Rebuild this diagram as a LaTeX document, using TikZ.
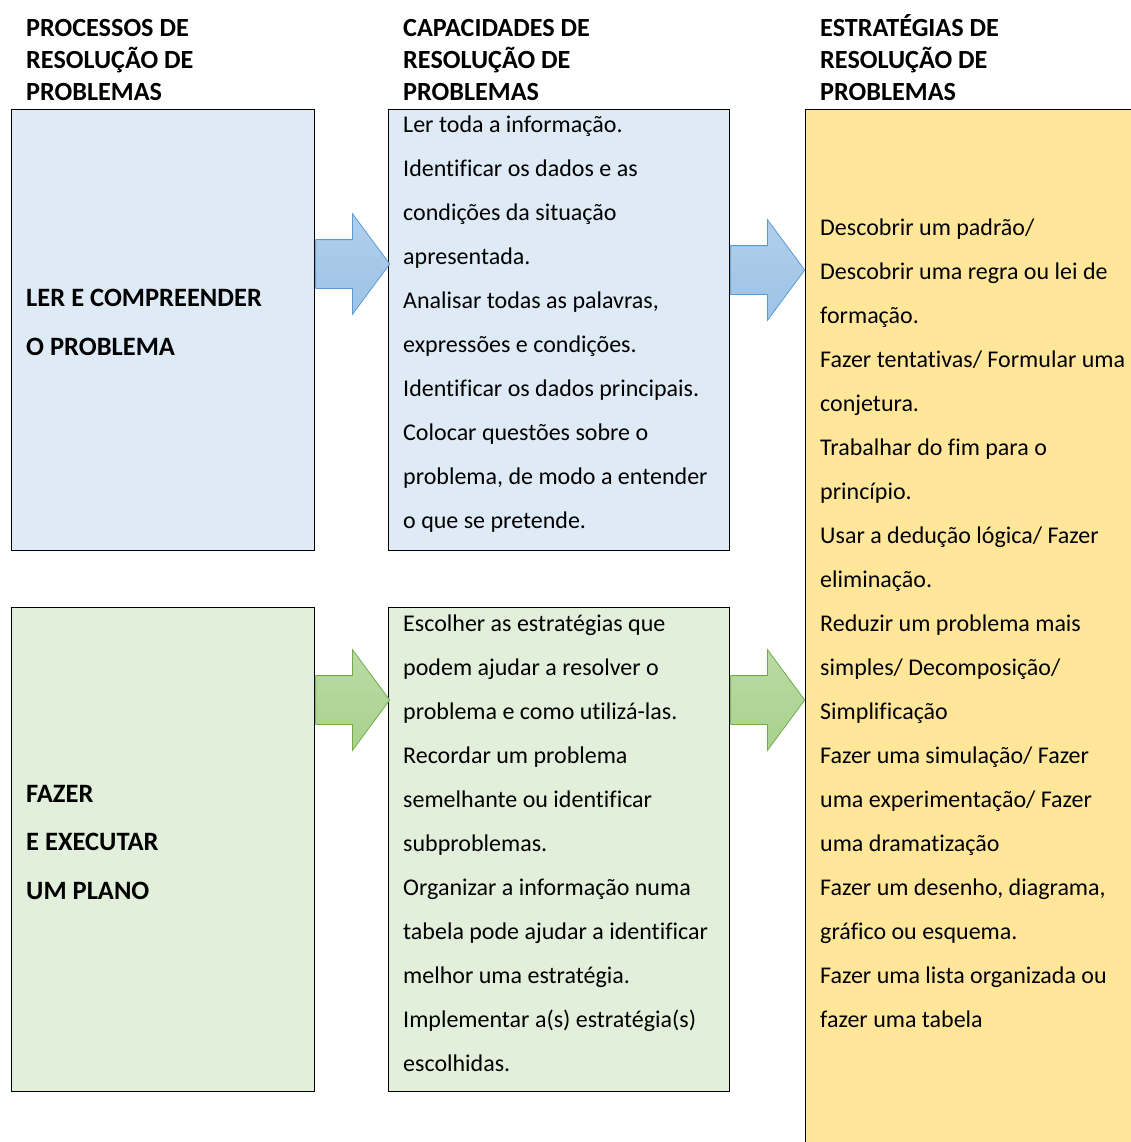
\documentclass[tikz,border=0pt]{standalone}
\usepackage{fontspec}
\setmainfont{Carlito}[Ligatures=CommonOff]
\usetikzlibrary{positioning,shapes.arrows}

\definecolor{boxblue}{HTML}{DEEBF7}
\definecolor{boxgreen}{HTML}{E2EFDA}
\definecolor{boxyellow}{HTML}{FFE699}
\definecolor{arrblue}{HTML}{9DC3E6}
\definecolor{arrblueline}{HTML}{5B9BD5}
\definecolor{arrgreen}{HTML}{A9D18E}
\definecolor{arrgreenline}{HTML}{70AD47}

\begin{document}
\begin{tikzpicture}[x=1pt, y=-1pt,
    box/.style={draw=black, line width=1.3pt, inner sep=0, anchor=north west},
    head/.style={font=\fontsize{26.2}{32}\selectfont\bfseries, align=left, inner sep=0, anchor=base west},
    body/.style={font=\fontsize{24}{44}\selectfont, align=left, inner sep=0, anchor=base west},
    proc/.style={font=\fontsize{26.5}{48.5}\selectfont\bfseries, align=left, inner sep=0, anchor=base west},
    blockarrow/.style={single arrow, minimum height=74, minimum width=0, inner xsep=0, inner ysep=24,
        single arrow head extend=26, single arrow tip angle=107, line width=0.8pt, anchor=west},
    bluearrow/.style={blockarrow, draw=arrblueline, top color=arrblue!80, bottom color=arrblue},
    greenarrow/.style={blockarrow, draw=arrgreenline, top color=arrgreen!80, bottom color=arrgreen}]
    \useasboundingbox (0,0) rectangle (1131,1142);

    % Headers (placed at the baseline of their last line)
    \node[head] (procHeader) at (26,101) {PROCESSOS DE\\RESOLUÇÃO DE\\PROBLEMAS};
    \node[head] (capHeader) at (403,101) {CAPACIDADES DE\\RESOLUÇÃO DE\\PROBLEMAS};
    \node[head] (estHeader) at (820,101) {ESTRATÉGIAS DE\\RESOLUÇÃO DE\\PROBLEMAS};

    % Boxes
    \node[box, fill=boxblue, minimum width=303, minimum height=441] (lerBox) at (11,109) {};
    \node[box, fill=boxblue, minimum width=341, minimum height=441] (capLerBox) at (388,109) {};
    \node[box, fill=boxgreen, minimum width=303, minimum height=484] (fazerBox) at (11,607) {};
    \node[box, fill=boxgreen, minimum width=341, minimum height=484] (capFazerBox) at (388,607) {};
    \node[box, fill=boxyellow, minimum width=340, minimum height=1045] (estBox) at (805,109) {};

    % Texts
    \node[proc] (lerText) at (26,355) {LER E COMPREENDER\\O PROBLEMA};
    \node[proc] (fazerText) at (26,899) {FAZER\\E EXECUTAR\\UM PLANO};
    \node[body] (capLerText) at (403,528) {Ler toda a informação.\\
        Identificar os dados e as\\
        condições da situação\\
        apresentada.\\
        Analisar todas as palavras,\\
        expressões e condições.\\
        Identificar os dados principais.\\
        Colocar questões sobre o\\
        problema, de modo a entender\\
        o que se pretende.};
    \node[body] (capFazerText) at (403,1071) {Escolher as estratégias que\\
        podem ajudar a resolver o\\
        problema e como utilizá-las.\\
        Recordar um problema\\
        semelhante ou identificar\\
        subproblemas.\\
        Organizar a informação numa\\
        tabela pode ajudar a identificar\\
        melhor uma estratégia.\\
        Implementar a(s) estratégia(s)\\
        escolhidas.};
    \node[body] (estText) at (820,1027) {Descobrir um padrão/\\
        Descobrir uma regra ou lei de\\
        formação.\\
        Fazer tentativas/ Formular uma\\
        conjetura.\\
        Trabalhar do fim para o\\
        princípio.\\
        Usar a dedução lógica/ Fazer\\
        eliminação.\\
        Reduzir um problema mais\\
        simples/ Decomposição/\\
        Simplificação\\
        Fazer uma simulação/ Fazer\\
        uma experimentação/ Fazer\\
        uma dramatização\\
        Fazer um desenho, diagrama,\\
        gráfico ou esquema.\\
        Fazer uma lista organizada ou\\
        fazer uma tabela};

    % Arrows
    \node[bluearrow] (arrLer) at (lerBox.east |- 0,264) {};
    \node[bluearrow] (arrCapLer) at (capLerBox.east |- 0,270) {};
    \node[greenarrow] (arrFazer) at (fazerBox.east |- 0,700) {};
    \node[greenarrow] (arrCapFazer) at (capFazerBox.east |- 0,700) {};
\end{tikzpicture}
\end{document}
